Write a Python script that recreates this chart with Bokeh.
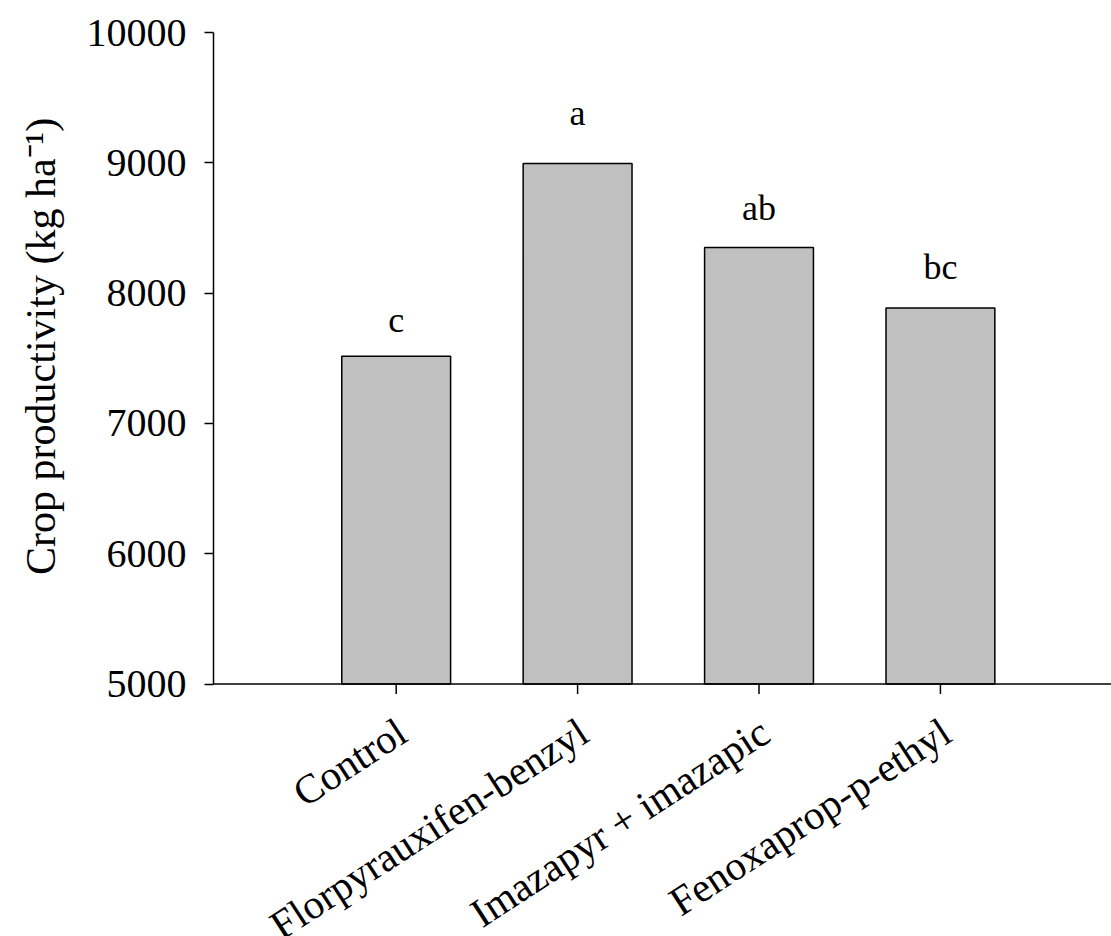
import math
from bokeh.plotting import figure
from bokeh.layouts import row
from bokeh.models import ColumnDataSource, FixedTicker, Range1d, Span
from bokeh.core.properties import value
from bokeh.embed import file_html
from bokeh.resources import INLINE

# ---- data ----
treatments = ["Control", "Florpyrauxifen-benzyl", "Imazapyr + imazapic", "Fenoxaprop-p-ethyl"]
positions = [1, 2, 3, 4]
productivity = [7515, 8995, 8350, 7885]
letters = ["c", "a", "ab", "bc"]
letter_y = [7790, 9380, 8655, 8200]
y_ticks = [5000, 6000, 7000, 8000, 9000, 10000]
y_label = "Crop productivity (kg ha\u207b\u00b9)"

FONT = "Liberation Serif"
Y0, Y1 = 5000, 10000

# ---- layout constants (pixels) ----
H = 936
LABEL_W = 72          # strip holding the y-axis title
MAIN_W = 1111 - LABEL_W
FRAME_LEFT = 213      # page x of the y axis
TOP = 32              # page y of 10000
AXIS_Y = 683.5        # page y of 5000
PX_PER_UNIT = (AXIS_Y - TOP) / (Y1 - Y0)
Y_BOTTOM = Y0 - (H - AXIS_Y) / PX_PER_UNIT   # value at the bottom edge of the page
TICK_PX = 10
NAME_DROP_PX = 44
NAME_ANGLE = math.radians(33)

# ---- y-axis title strip ----
lf = figure(width=LABEL_W, height=H, output_backend="svg", toolbar_location=None,
            x_range=Range1d(0, LABEL_W), y_range=Range1d(-H, 0),
            min_border_left=0, min_border_right=0, min_border_top=0, min_border_bottom=0)
lf.axis.visible = False
lf.xgrid.visible = False
lf.ygrid.visible = False
lf.outline_line_color = None
lf.border_fill_color = "white"
lf.background_fill_color = "white"
lf.text(x=[40], y=[-325], text=[y_label], angle=math.pi / 2,
        text_align="center", text_baseline="alphabetic",
        text_font=value(FONT), text_font_size="42px", text_color="black")

# ---- main chart ----
src = ColumnDataSource(dict(x=positions, top=productivity, lab=letters, ly=letter_y, name=treatments))

p = figure(width=MAIN_W, height=H, output_backend="svg", toolbar_location=None,
           x_range=Range1d(-0.007, 4.943), y_range=Range1d(Y_BOTTOM, Y1),
           x_axis_location=None,
           min_border_left=FRAME_LEFT - LABEL_W, min_border_right=0,
           min_border_top=TOP, min_border_bottom=0)
p.xgrid.visible = False
p.ygrid.visible = False
p.outline_line_color = None
p.background_fill_color = "white"
p.border_fill_color = "white"

p.vbar(x="x", top="top", bottom=Y0, width=0.6, source=src,
       fill_color="#c0c0c0", line_color="black", line_width=1.5)

p.text(x="x", y="ly", text="lab", source=src, text_align="center", text_baseline="alphabetic",
       text_font=value(FONT), text_font_size="36px", text_color="black")

# x axis line and ticks
p.add_layout(Span(location=Y0, dimension="width", line_color="black", line_width=1.5))
p.segment(x0=positions, x1=positions, y0=[Y0] * 4, y1=[Y0 - TICK_PX / PX_PER_UNIT] * 4,
          line_color="black", line_width=1.5)

# rotated category names
p.text(x="x", y=Y0 - NAME_DROP_PX / PX_PER_UNIT, text="name", source=src, x_offset=6,
       angle=NAME_ANGLE, text_align="right", text_baseline="alphabetic",
       text_font=value(FONT), text_font_size="41px", text_color="black")

# y axis
ya = p.yaxis[0]
ya.bounds = (Y0, Y1)
ya.ticker = FixedTicker(ticks=y_ticks)
ya.minor_tick_line_color = None
ya.major_tick_out = 9
ya.major_tick_in = 0
ya.axis_line_width = 1.5
ya.major_tick_line_width = 1.5
ya.axis_line_color = "black"
ya.major_tick_line_color = "black"
ya.major_label_text_font = FONT
ya.major_label_text_font_size = "40px"
ya.major_label_text_color = "black"
ya.major_label_standoff = 18

layout = row(lf, p, spacing=0)
open("out.html", "w").write(file_html(layout, INLINE))
